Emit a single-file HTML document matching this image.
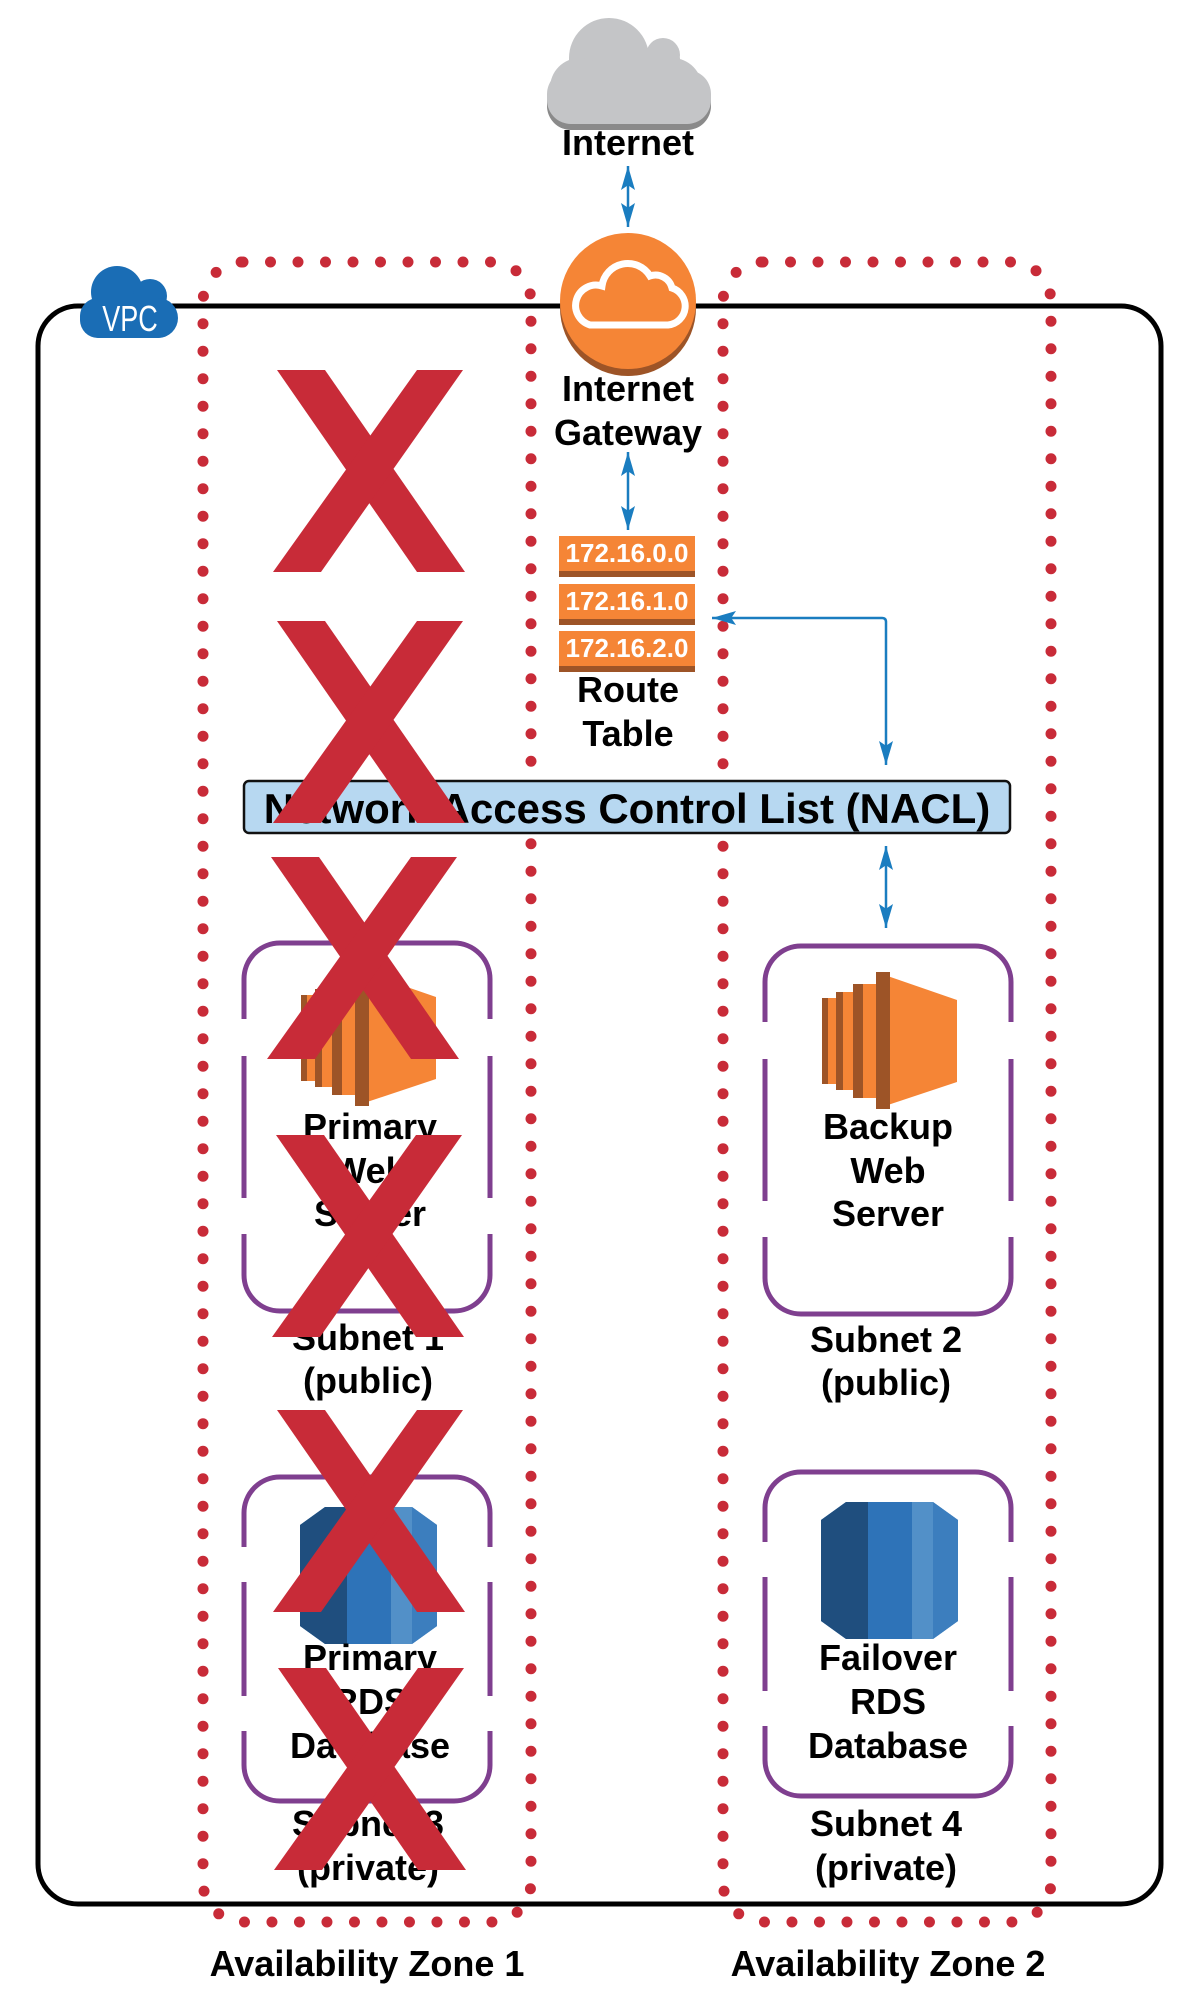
<!DOCTYPE html>
<html><head><meta charset="utf-8"><style>
html,body{margin:0;padding:0;background:#fff}
svg{display:block}
text{font-family:"Liberation Sans",sans-serif;font-weight:bold}
</style></head><body>
<svg width="1200" height="2000" viewBox="0 0 1200 2000" xmlns="http://www.w3.org/2000/svg">
<defs>
<marker id="ah" viewBox="0 0 10 10" refX="10" refY="5" markerWidth="24" markerHeight="14" preserveAspectRatio="none" orient="auto-start-reverse" markerUnits="userSpaceOnUse">
<path d="M0,0 L10,5 L0,10 L2,5 z" fill="#1a7dc0"/></marker>
<g id="ec2">
<rect x="822" y="998" width="14" height="86" fill="#f58536"/><rect x="822" y="998" width="6" height="86" fill="#9d5427"/>
<rect x="836" y="992" width="17" height="98" fill="#f58536"/><rect x="836" y="992" width="7" height="98" fill="#9d5427"/>
<rect x="853" y="984" width="23" height="114" fill="#f58536"/><rect x="853" y="984" width="10" height="114" fill="#9d5427"/>
<polygon points="876,972 957,1000 957,1082 876,1109" fill="#f58536"/>
<rect x="876" y="972" width="14" height="137" fill="#9d5427"/>
</g>
<g id="rds">
<polygon points="846,1502 933,1502 958,1520 958,1621 933,1639 846,1639 821,1621 821,1520" fill="#2e73b8"/>
<polygon points="846,1502 868,1502 868,1639 846,1639 821,1621 821,1520" fill="#1f4e7e"/>
<polygon points="912,1502 933,1502 958,1520 958,1621 933,1639 912,1639" fill="#5290c8"/>
<polygon points="933,1502 958,1520 958,1621 933,1639" fill="#2e73b8" opacity="0.6"/>
</g>
<g id="X"><polygon points="0,0 48,0 188,202 140,202" fill="#c82b38"/><polygon points="140,0 186,0 44,202 -4,202" fill="#c82b38"/></g>
</defs>

<!-- VPC -->
<rect x="38" y="306" width="1123" height="1598" rx="40" fill="none" stroke="#000" stroke-width="5"/>
<g fill="#1a6db5">
<circle cx="117" cy="292" r="26"/><circle cx="150" cy="296" r="17"/><circle cx="100" cy="318" r="20"/><circle cx="158" cy="318" r="20"/>
<rect x="80" y="298" width="96" height="40" rx="18"/></g>
<text x="0" y="0" font-size="36" fill="#fff" text-anchor="middle" style="font-weight:normal" transform="translate(130,331) scale(0.75,1)">VPC</text>

<!-- AZ dotted -->
<rect x="203" y="262" width="328" height="1660" rx="40" fill="none" stroke="#c82b38" stroke-width="11" stroke-linecap="round" stroke-dasharray="0 27.5"/>
<rect x="723" y="262" width="328" height="1660" rx="40" fill="none" stroke="#c82b38" stroke-width="11" stroke-linecap="round" stroke-dasharray="0 27.5"/>
<text x="367" y="1976" font-size="36" text-anchor="middle">Availability Zone 1</text>
<text x="888" y="1976" font-size="36" text-anchor="middle">Availability Zone 2</text>

<!-- Internet cloud -->
<g fill="#8a8a8a" transform="translate(0,6)">
<circle cx="609" cy="58" r="40"/><circle cx="663" cy="55" r="17"/><circle cx="672" cy="88" r="30"/><circle cx="580" cy="88" r="30"/><rect x="547" y="70" width="164" height="54" rx="24"/></g>
<g fill="#c4c5c7">
<circle cx="609" cy="58" r="40"/><circle cx="663" cy="55" r="17"/><circle cx="672" cy="88" r="30"/><circle cx="580" cy="88" r="30"/><rect x="547" y="70" width="164" height="54" rx="24"/><rect x="600" y="60" width="70" height="40"/></g>
<text x="628" y="155" font-size="36" text-anchor="middle">Internet</text>
<line x1="628" y1="166" x2="628" y2="227" stroke="#1a7dc0" stroke-width="2.5" marker-start="url(#ah)" marker-end="url(#ah)"/>

<!-- IGW -->
<circle cx="628" cy="308" r="68" fill="#9d5427"/>
<circle cx="628" cy="301" r="68" fill="#f58536"/>
<path d="M590,325 h78 a19,19 0 0 0 4,-37 a17,17 0 0 0 -22,-12 a26,26 0 0 0 -48,10 a20,20 0 0 0 -12,39 z" fill="none" stroke="#fff" stroke-width="7"/>
<text x="628" y="401" font-size="36" text-anchor="middle">Internet</text>
<text x="628" y="445" font-size="36" text-anchor="middle">Gateway</text>
<line x1="628" y1="452" x2="628" y2="530" stroke="#1a7dc0" stroke-width="2.5" marker-start="url(#ah)" marker-end="url(#ah)"/>

<!-- Route table -->
<g>
<rect x="559" y="536" width="136" height="41" fill="#f58536"/><rect x="559" y="571" width="136" height="6" fill="#9d5427"/>
<rect x="559" y="584" width="136" height="41" fill="#f58536"/><rect x="559" y="619" width="136" height="6" fill="#9d5427"/>
<rect x="559" y="631" width="136" height="41" fill="#f58536"/><rect x="559" y="666" width="136" height="6" fill="#9d5427"/>
<text x="627" y="562" font-size="26" fill="#fff" text-anchor="middle">172.16.0.0</text>
<text x="627" y="610" font-size="26" fill="#fff" text-anchor="middle">172.16.1.0</text>
<text x="627" y="657" font-size="26" fill="#fff" text-anchor="middle">172.16.2.0</text>
</g>
<text x="628" y="702" font-size="36" text-anchor="middle">Route</text>
<text x="628" y="746" font-size="36" text-anchor="middle">Table</text>
<path d="M712,618 H882 Q886,618 886,622 V765" fill="none" stroke="#1a7dc0" stroke-width="2.5" marker-start="url(#ah)" marker-end="url(#ah)"/>

<!-- NACL -->
<rect x="244" y="781" width="766" height="52" rx="5" fill="#b7d8f1" stroke="#111" stroke-width="2.5"/>
<text x="627" y="823" font-size="42" text-anchor="middle">Network Access Control List (NACL)</text>
<line x1="886" y1="846" x2="886" y2="928" stroke="#1a7dc0" stroke-width="2.5" marker-start="url(#ah)" marker-end="url(#ah)"/>

<!-- Subnets -->
<g fill="none" stroke="#7f3f8f" stroke-width="5">
<rect x="244" y="943" width="246" height="368" rx="36"/>
<rect x="765" y="946" width="246" height="368" rx="36"/>
<rect x="244" y="1477" width="246" height="324" rx="36"/>
<rect x="765" y="1472" width="246" height="324" rx="36"/>
</g>
<g fill="#fff">
<rect x="238" y="1019" width="12" height="37"/><rect x="484" y="1019" width="12" height="37"/>
<rect x="238" y="1198" width="12" height="36"/><rect x="484" y="1198" width="12" height="36"/>
<rect x="759" y="1022" width="12" height="37"/><rect x="1005" y="1022" width="12" height="37"/>
<rect x="759" y="1201" width="12" height="36"/><rect x="1005" y="1201" width="12" height="36"/>
<rect x="238" y="1547" width="12" height="35"/><rect x="484" y="1547" width="12" height="35"/>
<rect x="238" y="1696" width="12" height="35"/><rect x="484" y="1696" width="12" height="35"/>
<rect x="759" y="1542" width="12" height="35"/><rect x="1005" y="1542" width="12" height="35"/>
<rect x="759" y="1691" width="12" height="35"/><rect x="1005" y="1691" width="12" height="35"/>
</g>

<use href="#ec2"/>
<use href="#ec2" transform="translate(-521,-3)"/>
<use href="#rds"/>
<use href="#rds" transform="translate(-521,5)"/>

<g font-size="36" text-anchor="middle">
<text x="888" y="1139">Backup</text><text x="888" y="1183">Web</text><text x="888" y="1226">Server</text>
<text x="886" y="1352">Subnet 2</text><text x="886" y="1395">(public)</text>
<text x="888" y="1670">Failover</text><text x="888" y="1714">RDS</text><text x="888" y="1758">Database</text>
<text x="886" y="1836">Subnet 4</text><text x="886" y="1880">(private)</text>
<text x="370" y="1139">Primary</text><text x="370" y="1183">Web</text><text x="370" y="1226">Server</text>
<text x="368" y="1350">Subnet 1</text><text x="368" y="1393">(public)</text>
<text x="370" y="1670">Primary</text><text x="370" y="1714">RDS</text><text x="370" y="1758">Database</text>
<text x="368" y="1836">Subnet 3</text><text x="368" y="1880">(private)</text>
</g>

<!-- Red X marks -->
<use href="#X" transform="translate(277,370)"/>
<use href="#X" transform="translate(277,621)"/>
<use href="#X" transform="translate(271,857)"/>
<use href="#X" transform="translate(276,1135)"/>
<use href="#X" transform="translate(277,1410)"/>
<use href="#X" transform="translate(278,1668)"/>
</svg>
</body></html>
